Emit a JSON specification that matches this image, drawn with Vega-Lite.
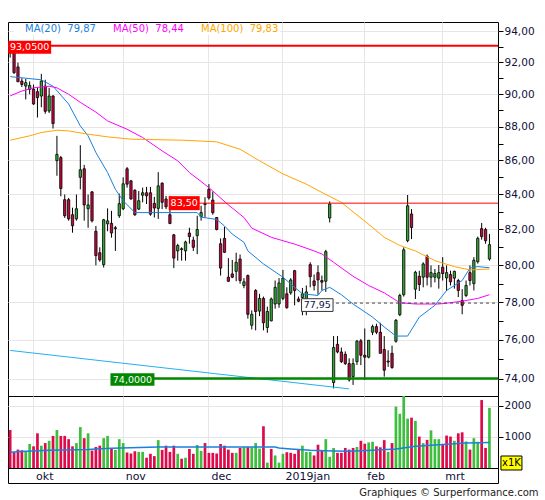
{
 "$schema": "https://vega.github.io/schema/vega-lite/v6.json",
 "background": "white",
 "padding": {"left": 6, "top": 21, "right": 0, "bottom": 0},
 "spacing": 0,
 "bounds": "flush",
 "title": {"text": "Graphiques © Surperformance.com", "orient": "bottom", "anchor": "end", "fontSize": 10, "font": "DejaVu Sans", "fontWeight": "normal", "color": "#222222", "offset": 4, "dx": 4, "baseline": "top"},
 "datasets": {
  "candles": [
{"d":"2018-09-21","o":92.95,"h":93.05,"l":92.3,"c":92.6,"v":1223,"vd":"d"},
{"d":"2018-09-24","o":92.61,"h":92.98,"l":91.27,"c":91.35,"v":509,"vd":"d"},
{"d":"2018-09-25","o":91.71,"h":91.98,"l":90.76,"c":90.78,"v":593,"vd":"d"},
{"d":"2018-09-26","o":90.82,"h":91.0,"l":90.45,"c":90.61,"v":572,"vd":"d"},
{"d":"2018-09-27","o":90.51,"h":90.95,"l":89.68,"c":90.72,"v":530,"vd":"u"},
{"d":"2018-09-28","o":90.3,"h":90.8,"l":90.0,"c":90.55,"v":772,"vd":"u"},
{"d":"2018-10-01","o":90.32,"h":90.6,"l":89.35,"c":89.4,"v":698,"vd":"d"},
{"d":"2018-10-02","o":90.16,"h":90.4,"l":88.57,"c":89.79,"v":1118,"vd":"d"},
{"d":"2018-10-03","o":89.89,"h":91.27,"l":89.2,"c":90.82,"v":719,"vd":"u"},
{"d":"2018-10-04","o":90.51,"h":90.9,"l":88.8,"c":88.95,"v":803,"vd":"d"},
{"d":"2018-10-05","o":88.97,"h":90.4,"l":88.85,"c":89.89,"v":877,"vd":"u"},
{"d":"2018-10-08","o":89.89,"h":89.95,"l":87.9,"c":88.2,"v":1034,"vd":"d"},
{"d":"2018-10-09","o":85.98,"h":87.46,"l":85.09,"c":86.35,"v":1223,"vd":"u"},
{"d":"2018-10-10","o":86.16,"h":86.26,"l":83.9,"c":84.35,"v":1034,"vd":"d"},
{"d":"2018-10-11","o":83.7,"h":84.0,"l":82.66,"c":82.78,"v":1034,"vd":"d"},
{"d":"2018-10-12","o":83.7,"h":83.8,"l":82.5,"c":82.6,"v":929,"vd":"d"},
{"d":"2018-10-15","o":82.84,"h":83.24,"l":81.82,"c":82.21,"v":698,"vd":"d"},
{"d":"2018-10-16","o":82.6,"h":84.0,"l":82.5,"c":83.18,"v":803,"vd":"u"},
{"d":"2018-10-17","o":85.0,"h":86.9,"l":84.3,"c":85.44,"v":1318,"vd":"u"},
{"d":"2018-10-18","o":85.5,"h":85.73,"l":82.5,"c":83.4,"v":961,"vd":"d"},
{"d":"2018-10-19","o":83.18,"h":84.0,"l":82.1,"c":83.4,"v":1118,"vd":"u"},
{"d":"2018-10-22","o":84.15,"h":84.2,"l":82.4,"c":82.49,"v":562,"vd":"d"},
{"d":"2018-10-23","o":81.9,"h":82.2,"l":80.0,"c":80.54,"v":677,"vd":"d"},
{"d":"2018-10-24","o":80.7,"h":81.0,"l":80.2,"c":80.3,"v":719,"vd":"d"},
{"d":"2018-10-25","o":80.04,"h":82.6,"l":79.88,"c":82.55,"v":961,"vd":"u"},
{"d":"2018-10-26","o":82.32,"h":83.2,"l":81.9,"c":82.49,"v":1034,"vd":"u"},
{"d":"2018-10-29","o":82.35,"h":83.06,"l":81.54,"c":81.8,"v":646,"vd":"d"},
{"d":"2018-10-30","o":82.05,"h":82.2,"l":80.8,"c":82.1,"v":583,"vd":"u"},
{"d":"2018-10-31","o":82.78,"h":84.05,"l":82.66,"c":83.47,"v":929,"vd":"u"},
{"d":"2018-11-01","o":83.18,"h":85.0,"l":83.1,"c":84.62,"v":803,"vd":"u"},
{"d":"2018-11-02","o":85.5,"h":85.6,"l":84.4,"c":84.6,"v":499,"vd":"d"},
{"d":"2018-11-05","o":84.79,"h":84.85,"l":83.7,"c":83.74,"v":467,"vd":"d"},
{"d":"2018-11-06","o":84.25,"h":84.3,"l":82.78,"c":82.83,"v":541,"vd":"d"},
{"d":"2018-11-07","o":83.16,"h":84.2,"l":83.1,"c":83.64,"v":520,"vd":"u"},
{"d":"2018-11-08","o":83.96,"h":84.4,"l":83.55,"c":84.1,"v":520,"vd":"u"},
{"d":"2018-11-09","o":84.1,"h":84.44,"l":83.45,"c":83.92,"v":331,"vd":"d"},
{"d":"2018-11-12","o":84.1,"h":84.44,"l":82.78,"c":82.87,"v":457,"vd":"d"},
{"d":"2018-11-13","o":83.49,"h":83.86,"l":82.68,"c":83.22,"v":383,"vd":"d"},
{"d":"2018-11-14","o":83.2,"h":85.3,"l":82.6,"c":84.5,"v":898,"vd":"u"},
{"d":"2018-11-15","o":84.66,"h":84.7,"l":83.16,"c":83.55,"v":583,"vd":"d"},
{"d":"2018-11-16","o":83.74,"h":83.92,"l":83.16,"c":83.29,"v":719,"vd":"d"},
{"d":"2018-11-19","o":82.84,"h":83.92,"l":82.3,"c":82.34,"v":520,"vd":"d"},
{"d":"2018-11-20","o":81.7,"h":81.75,"l":79.85,"c":80.4,"v":719,"vd":"d"},
{"d":"2018-11-21","o":80.8,"h":81.2,"l":80.26,"c":81.1,"v":457,"vd":"u"},
{"d":"2018-11-22","o":80.92,"h":81.0,"l":80.26,"c":80.88,"v":299,"vd":"d"},
{"d":"2018-11-23","o":80.8,"h":81.37,"l":80.26,"c":81.3,"v":331,"vd":"u"},
{"d":"2018-11-26","o":81.8,"h":82.1,"l":81.2,"c":81.6,"v":614,"vd":"d"},
{"d":"2018-11-27","o":81.4,"h":81.6,"l":80.8,"c":81.0,"v":457,"vd":"d"},
{"d":"2018-11-28","o":81.65,"h":82.78,"l":80.62,"c":82.0,"v":740,"vd":"u"},
{"d":"2018-11-29","o":82.73,"h":83.35,"l":82.5,"c":82.97,"v":551,"vd":"u"},
{"d":"2018-11-30","o":83.49,"h":83.84,"l":82.68,"c":83.42,"v":803,"vd":"d"},
{"d":"2018-12-03","o":84.3,"h":84.6,"l":83.7,"c":83.8,"v":488,"vd":"d"},
{"d":"2018-12-04","o":83.68,"h":84.17,"l":82.84,"c":82.95,"v":488,"vd":"d"},
{"d":"2018-12-05","o":82.68,"h":82.7,"l":81.95,"c":82.0,"v":467,"vd":"d"},
{"d":"2018-12-06","o":81.2,"h":81.5,"l":79.44,"c":79.85,"v":772,"vd":"d"},
{"d":"2018-12-07","o":81.5,"h":82.15,"l":80.7,"c":80.72,"v":719,"vd":"d"},
{"d":"2018-12-10","o":79.35,"h":80.4,"l":79.1,"c":79.13,"v":593,"vd":"d"},
{"d":"2018-12-11","o":79.53,"h":80.3,"l":79.3,"c":79.35,"v":488,"vd":"d"},
{"d":"2018-12-12","o":79.67,"h":80.7,"l":79.13,"c":80.17,"v":488,"vd":"u"},
{"d":"2018-12-13","o":80.35,"h":80.6,"l":79.0,"c":79.17,"v":646,"vd":"d"},
{"d":"2018-12-14","o":78.9,"h":79.3,"l":78.75,"c":79.1,"v":667,"vd":"u"},
{"d":"2018-12-17","o":79.44,"h":79.5,"l":77.12,"c":77.35,"v":667,"vd":"d"},
{"d":"2018-12-18","o":76.77,"h":77.56,"l":76.55,"c":77.35,"v":667,"vd":"u"},
{"d":"2018-12-19","o":78.63,"h":78.7,"l":76.5,"c":77.5,"v":803,"vd":"u"},
{"d":"2018-12-20","o":77.52,"h":78.45,"l":77.25,"c":78.2,"v":625,"vd":"u"},
{"d":"2018-12-21","o":78.2,"h":78.3,"l":76.5,"c":76.9,"v":1349,"vd":"d"},
{"d":"2018-12-24","o":76.65,"h":77.76,"l":76.37,"c":77.5,"v":173,"vd":"u"},
{"d":"2018-12-27","o":77.0,"h":78.25,"l":76.98,"c":78.17,"v":614,"vd":"d"},
{"d":"2018-12-28","o":77.9,"h":79.17,"l":77.65,"c":78.8,"v":404,"vd":"u"},
{"d":"2018-12-31","o":77.9,"h":79.3,"l":77.7,"c":79.04,"v":173,"vd":"u"},
{"d":"2019-01-03","o":78.2,"h":79.75,"l":78.1,"c":79.3,"v":457,"vd":"u"},
{"d":"2019-01-04","o":78.45,"h":78.8,"l":77.65,"c":77.7,"v":509,"vd":"d"},
{"d":"2019-01-07","o":78.5,"h":79.3,"l":78.4,"c":79.2,"v":488,"vd":"d"},
{"d":"2019-01-08","o":79.71,"h":79.75,"l":77.83,"c":78.63,"v":457,"vd":"d"},
{"d":"2019-01-09","o":78.17,"h":78.3,"l":78.0,"c":78.05,"v":593,"vd":"d"},
{"d":"2019-01-10","o":78.25,"h":78.77,"l":77.3,"c":78.45,"v":719,"vd":"u"},
{"d":"2019-01-11","o":78.1,"h":78.9,"l":77.3,"c":78.55,"v":520,"vd":"u"},
{"d":"2019-01-14","o":80.04,"h":80.17,"l":78.8,"c":79.38,"v":520,"vd":"u"},
{"d":"2019-01-15","o":79.15,"h":79.5,"l":78.63,"c":78.9,"v":404,"vd":"d"},
{"d":"2019-01-16","o":79.6,"h":80.0,"l":78.4,"c":79.2,"v":751,"vd":"d"},
{"d":"2019-01-17","o":79.17,"h":79.44,"l":78.63,"c":79.08,"v":562,"vd":"d"},
{"d":"2019-01-18","o":79.13,"h":80.86,"l":78.55,"c":80.76,"v":929,"vd":"u"},
{"d":"2019-01-21","o":82.65,"h":83.6,"l":82.4,"c":83.45,"v":362,"vd":"u"},
{"d":"2019-01-22","o":73.8,"h":76.2,"l":73.5,"c":75.6,"v":646,"vd":"u"},
{"d":"2019-01-23","o":75.77,"h":76.2,"l":75.3,"c":75.37,"v":488,"vd":"d"},
{"d":"2019-01-24","o":75.37,"h":75.6,"l":74.8,"c":74.87,"v":488,"vd":"d"},
{"d":"2019-01-25","o":75.25,"h":75.4,"l":74.7,"c":74.77,"v":646,"vd":"d"},
{"d":"2019-01-28","o":74.77,"h":75.04,"l":73.85,"c":73.93,"v":593,"vd":"d"},
{"d":"2019-01-29","o":74.1,"h":75.04,"l":73.68,"c":74.77,"v":646,"vd":"d"},
{"d":"2019-01-30","o":74.87,"h":76.0,"l":74.7,"c":75.93,"v":677,"vd":"u"},
{"d":"2019-01-31","o":75.95,"h":76.05,"l":74.69,"c":75.2,"v":877,"vd":"d"},
{"d":"2019-02-01","o":75.2,"h":76.6,"l":73.93,"c":75.1,"v":782,"vd":"d"},
{"d":"2019-02-04","o":75.1,"h":75.98,"l":75.04,"c":75.98,"v":824,"vd":"u"},
{"d":"2019-02-05","o":76.4,"h":76.8,"l":76.25,"c":76.7,"v":845,"vd":"u"},
{"d":"2019-02-06","o":76.7,"h":76.85,"l":76.3,"c":76.4,"v":698,"vd":"d"},
{"d":"2019-02-07","o":76.4,"h":76.9,"l":75.3,"c":75.3,"v":667,"vd":"d"},
{"d":"2019-02-08","o":75.5,"h":76.2,"l":74.1,"c":74.43,"v":898,"vd":"d"},
{"d":"2019-02-11","o":74.85,"h":75.46,"l":74.6,"c":74.9,"v":520,"vd":"u"},
{"d":"2019-02-12","o":75.3,"h":75.7,"l":74.5,"c":74.57,"v":803,"vd":"d"},
{"d":"2019-02-13","o":75.93,"h":77.1,"l":75.85,"c":77.03,"v":1979,"vd":"u"},
{"d":"2019-02-14","o":77.33,"h":78.45,"l":77.25,"c":78.36,"v":1748,"vd":"u"},
{"d":"2019-02-15","o":78.4,"h":81.0,"l":78.3,"c":80.86,"v":2350,"vd":"u"},
{"d":"2019-02-18","o":81.37,"h":83.97,"l":81.28,"c":83.35,"v":1591,"vd":"u"},
{"d":"2019-02-19","o":82.88,"h":83.16,"l":81.46,"c":82.11,"v":1622,"vd":"d"},
{"d":"2019-02-20","o":78.7,"h":79.7,"l":78.17,"c":79.62,"v":1517,"vd":"u"},
{"d":"2019-02-21","o":79.4,"h":79.7,"l":78.6,"c":78.95,"v":1013,"vd":"d"},
{"d":"2019-02-22","o":79.35,"h":80.17,"l":78.8,"c":80.08,"v":803,"vd":"u"},
{"d":"2019-02-25","o":80.5,"h":80.6,"l":78.9,"c":79.35,"v":908,"vd":"d"},
{"d":"2019-02-26","o":79.35,"h":80.0,"l":78.8,"c":79.6,"v":1213,"vd":"u"},
{"d":"2019-02-27","o":79.35,"h":79.8,"l":79.07,"c":79.55,"v":929,"vd":"u"},
{"d":"2019-02-28","o":79.3,"h":80.02,"l":78.73,"c":79.6,"v":929,"vd":"u"},
{"d":"2019-03-01","o":79.9,"h":80.45,"l":79.17,"c":79.55,"v":751,"vd":"d"},
{"d":"2019-03-04","o":79.31,"h":80.0,"l":78.6,"c":79.6,"v":1045,"vd":"d"},
{"d":"2019-03-05","o":79.5,"h":79.71,"l":78.9,"c":79.1,"v":1013,"vd":"d"},
{"d":"2019-03-06","o":79.3,"h":79.71,"l":78.73,"c":79.67,"v":877,"vd":"u"},
{"d":"2019-03-07","o":79.17,"h":79.26,"l":78.27,"c":78.63,"v":1118,"vd":"d"},
{"d":"2019-03-08","o":78.09,"h":78.7,"l":77.35,"c":77.83,"v":1150,"vd":"d"},
{"d":"2019-03-11","o":78.36,"h":79.17,"l":78.27,"c":78.9,"v":856,"vd":"u"},
{"d":"2019-03-12","o":79.6,"h":80.0,"l":78.9,"c":79.17,"v":593,"vd":"d"},
{"d":"2019-03-13","o":79.0,"h":80.45,"l":78.63,"c":80.28,"v":961,"vd":"u"},
{"d":"2019-03-14","o":80.2,"h":81.6,"l":80.1,"c":81.5,"v":845,"vd":"u"},
{"d":"2019-03-15","o":82.05,"h":82.37,"l":81.43,"c":81.6,"v":2189,"vd":"d"},
{"d":"2019-03-18","o":82.0,"h":82.1,"l":81.2,"c":81.37,"v":646,"vd":"d"},
{"d":"2019-03-19","o":80.35,"h":81.75,"l":80.26,"c":81.15,"v":1937,"vd":"u"}
  ],
  "ma": [
{"ma":"MA(20)\u00a0\u00a079,87","d":"2018-09-21","v":91.1},
{"ma":"MA(20)\u00a0\u00a079,87","d":"2018-10-03","v":90.9},
{"ma":"MA(20)\u00a0\u00a079,87","d":"2018-10-08","v":90.5},
{"ma":"MA(20)\u00a0\u00a079,87","d":"2018-10-12","v":89.4},
{"ma":"MA(20)\u00a0\u00a079,87","d":"2018-10-17","v":88.06},
{"ma":"MA(20)\u00a0\u00a079,87","d":"2018-10-19","v":87.46},
{"ma":"MA(20)\u00a0\u00a079,87","d":"2018-10-23","v":86.46},
{"ma":"MA(20)\u00a0\u00a079,87","d":"2018-10-26","v":85.28},
{"ma":"MA(20)\u00a0\u00a079,87","d":"2018-10-30","v":84.3},
{"ma":"MA(20)\u00a0\u00a079,87","d":"2018-11-01","v":83.64},
{"ma":"MA(20)\u00a0\u00a079,87","d":"2018-11-06","v":82.96},
{"ma":"MA(20)\u00a0\u00a079,87","d":"2018-11-28","v":82.96},
{"ma":"MA(20)\u00a0\u00a079,87","d":"2018-11-29","v":82.7},
{"ma":"MA(20)\u00a0\u00a079,87","d":"2018-12-05","v":82.57},
{"ma":"MA(20)\u00a0\u00a079,87","d":"2018-12-07","v":82.2},
{"ma":"MA(20)\u00a0\u00a079,87","d":"2018-12-11","v":81.74},
{"ma":"MA(20)\u00a0\u00a079,87","d":"2018-12-14","v":81.28},
{"ma":"MA(20)\u00a0\u00a079,87","d":"2018-12-17","v":80.8},
{"ma":"MA(20)\u00a0\u00a079,87","d":"2018-12-21","v":80.08},
{"ma":"MA(20)\u00a0\u00a079,87","d":"2019-01-03","v":79.35},
{"ma":"MA(20)\u00a0\u00a079,87","d":"2019-01-08","v":78.8},
{"ma":"MA(20)\u00a0\u00a079,87","d":"2019-01-10","v":78.45},
{"ma":"MA(20)\u00a0\u00a079,87","d":"2019-01-16","v":78.36},
{"ma":"MA(20)\u00a0\u00a079,87","d":"2019-01-17","v":78.63},
{"ma":"MA(20)\u00a0\u00a079,87","d":"2019-01-21","v":78.8},
{"ma":"MA(20)\u00a0\u00a079,87","d":"2019-01-24","v":78.4},
{"ma":"MA(20)\u00a0\u00a079,87","d":"2019-01-29","v":77.9},
{"ma":"MA(20)\u00a0\u00a079,87","d":"2019-02-05","v":77.2},
{"ma":"MA(20)\u00a0\u00a079,87","d":"2019-02-08","v":76.68},
{"ma":"MA(20)\u00a0\u00a079,87","d":"2019-02-13","v":76.2},
{"ma":"MA(20)\u00a0\u00a079,87","d":"2019-02-18","v":76.2},
{"ma":"MA(20)\u00a0\u00a079,87","d":"2019-02-21","v":77.2},
{"ma":"MA(20)\u00a0\u00a079,87","d":"2019-02-27","v":77.83},
{"ma":"MA(20)\u00a0\u00a079,87","d":"2019-03-04","v":78.63},
{"ma":"MA(20)\u00a0\u00a079,87","d":"2019-03-08","v":79.17},
{"ma":"MA(20)\u00a0\u00a079,87","d":"2019-03-12","v":79.85},
{"ma":"MA(20)\u00a0\u00a079,87","d":"2019-03-14","v":79.93},
{"ma":"MA(20)\u00a0\u00a079,87","d":"2019-03-19","v":79.87},
{"ma":"MA(50)\u00a0\u00a078,44","d":"2018-09-21","v":89.9},
{"ma":"MA(50)\u00a0\u00a078,44","d":"2018-09-26","v":90.2},
{"ma":"MA(50)\u00a0\u00a078,44","d":"2018-10-01","v":90.4},
{"ma":"MA(50)\u00a0\u00a078,44","d":"2018-10-05","v":90.5},
{"ma":"MA(50)\u00a0\u00a078,44","d":"2018-10-09","v":90.4},
{"ma":"MA(50)\u00a0\u00a078,44","d":"2018-10-12","v":90.0},
{"ma":"MA(50)\u00a0\u00a078,44","d":"2018-10-17","v":89.5},
{"ma":"MA(50)\u00a0\u00a078,44","d":"2018-10-23","v":88.9},
{"ma":"MA(50)\u00a0\u00a078,44","d":"2018-10-26","v":88.36},
{"ma":"MA(50)\u00a0\u00a078,44","d":"2018-11-02","v":87.86},
{"ma":"MA(50)\u00a0\u00a078,44","d":"2018-11-08","v":87.36},
{"ma":"MA(50)\u00a0\u00a078,44","d":"2018-11-15","v":86.56},
{"ma":"MA(50)\u00a0\u00a078,44","d":"2018-11-21","v":85.97},
{"ma":"MA(50)\u00a0\u00a078,44","d":"2018-11-26","v":85.28},
{"ma":"MA(50)\u00a0\u00a078,44","d":"2018-12-03","v":84.4},
{"ma":"MA(50)\u00a0\u00a078,44","d":"2018-12-10","v":83.4},
{"ma":"MA(50)\u00a0\u00a078,44","d":"2018-12-14","v":82.68},
{"ma":"MA(50)\u00a0\u00a078,44","d":"2018-12-18","v":82.08},
{"ma":"MA(50)\u00a0\u00a078,44","d":"2018-12-27","v":81.56},
{"ma":"MA(50)\u00a0\u00a078,44","d":"2019-01-08","v":81.18},
{"ma":"MA(50)\u00a0\u00a078,44","d":"2019-01-15","v":80.8},
{"ma":"MA(50)\u00a0\u00a078,44","d":"2019-01-17","v":80.63},
{"ma":"MA(50)\u00a0\u00a078,44","d":"2019-01-22","v":80.17},
{"ma":"MA(50)\u00a0\u00a078,44","d":"2019-01-29","v":79.4},
{"ma":"MA(50)\u00a0\u00a078,44","d":"2019-02-04","v":78.9},
{"ma":"MA(50)\u00a0\u00a078,44","d":"2019-02-08","v":78.5},
{"ma":"MA(50)\u00a0\u00a078,44","d":"2019-02-14","v":77.97},
{"ma":"MA(50)\u00a0\u00a078,44","d":"2019-02-20","v":77.9},
{"ma":"MA(50)\u00a0\u00a078,44","d":"2019-02-28","v":77.9},
{"ma":"MA(50)\u00a0\u00a078,44","d":"2019-03-05","v":77.97},
{"ma":"MA(50)\u00a0\u00a078,44","d":"2019-03-08","v":78.05},
{"ma":"MA(50)\u00a0\u00a078,44","d":"2019-03-14","v":78.2},
{"ma":"MA(50)\u00a0\u00a078,44","d":"2019-03-19","v":78.4},
{"ma":"MA(100)\u00a0\u00a079,83","d":"2018-09-21","v":87.2},
{"ma":"MA(100)\u00a0\u00a079,83","d":"2018-09-28","v":87.46},
{"ma":"MA(100)\u00a0\u00a079,83","d":"2018-10-03","v":87.66},
{"ma":"MA(100)\u00a0\u00a079,83","d":"2018-10-09","v":87.8},
{"ma":"MA(100)\u00a0\u00a079,83","d":"2018-10-12","v":87.76},
{"ma":"MA(100)\u00a0\u00a079,83","d":"2018-10-19","v":87.56},
{"ma":"MA(100)\u00a0\u00a079,83","d":"2018-10-26","v":87.4},
{"ma":"MA(100)\u00a0\u00a079,83","d":"2018-11-05","v":87.26},
{"ma":"MA(100)\u00a0\u00a079,83","d":"2018-11-22","v":87.2},
{"ma":"MA(100)\u00a0\u00a079,83","d":"2018-12-05","v":87.1},
{"ma":"MA(100)\u00a0\u00a079,83","d":"2018-12-13","v":86.66},
{"ma":"MA(100)\u00a0\u00a079,83","d":"2018-12-20","v":85.97},
{"ma":"MA(100)\u00a0\u00a079,83","d":"2019-01-03","v":85.2},
{"ma":"MA(100)\u00a0\u00a079,83","d":"2019-01-11","v":84.6},
{"ma":"MA(100)\u00a0\u00a079,83","d":"2019-01-18","v":84.0},
{"ma":"MA(100)\u00a0\u00a079,83","d":"2019-01-24","v":83.55},
{"ma":"MA(100)\u00a0\u00a079,83","d":"2019-01-29","v":83.0},
{"ma":"MA(100)\u00a0\u00a079,83","d":"2019-02-04","v":82.3},
{"ma":"MA(100)\u00a0\u00a079,83","d":"2019-02-08","v":81.56},
{"ma":"MA(100)\u00a0\u00a079,83","d":"2019-02-14","v":81.1},
{"ma":"MA(100)\u00a0\u00a079,83","d":"2019-02-20","v":80.8},
{"ma":"MA(100)\u00a0\u00a079,83","d":"2019-02-27","v":80.26},
{"ma":"MA(100)\u00a0\u00a079,83","d":"2019-03-06","v":79.93},
{"ma":"MA(100)\u00a0\u00a079,83","d":"2019-03-12","v":79.75},
{"ma":"MA(100)\u00a0\u00a079,83","d":"2019-03-19","v":79.8}
  ],
  "vma": [
{"d":"2018-09-21","v":509},{"d":"2018-09-27","v":541},{"d":"2018-10-05","v":572},{"d":"2018-10-19","v":593},
{"d":"2018-10-23","v":614},{"d":"2018-10-29","v":635},{"d":"2018-11-14","v":677},{"d":"2018-12-28","v":677},
{"d":"2018-12-31","v":646},{"d":"2019-01-07","v":614},{"d":"2019-01-14","v":572},{"d":"2019-01-22","v":551},
{"d":"2019-01-28","v":541},{"d":"2019-02-05","v":572},{"d":"2019-02-13","v":614},{"d":"2019-02-20","v":698},
{"d":"2019-02-26","v":730},{"d":"2019-03-05","v":772},{"d":"2019-03-11","v":803},{"d":"2019-03-19","v":824}
  ],
  "trend": [{"d":"2018-09-21","p":75.45},{"d":"2019-01-28","p":73.48}]
 },
 "vconcat": [
  {
   "width": 490, "height": 374,
   "layer": [
    {"data": {"name": "candles"}, "mark": {"type": "rule", "color": "#000000", "strokeWidth": 1},
     "encoding": {
      "x": {"field": "d", "type": "ordinal", "scale": {"type": "band", "paddingInner": 0.25, "paddingOuter": 1.351, "align": 0.0905, "round": false},
            "axis": {"orient": "bottom", "grid": true, "gridColor": "#e6e6e6", "labels": false, "ticks": false, "domain": false, "title": null, "bandPosition": 0.5,
                     "values": ["2018-10-01","2018-11-01","2018-12-03","2019-01-03","2019-02-01","2019-03-01"]}},
      "y": {"field": "l", "type": "quantitative", "scale": {"type": "log", "domain": [73.12, 94.59], "nice": false},
            "axis": {"orient": "right", "values": [74,75,76,77,78,79,80,81,82,83,84,85,86,87,88,89,90,91,92,93,94],
                     "labelExpr": "datum.value % 2 == 0 ? replace(format(datum.value, '.2f'), '.', ',') : ''",
                     "tickSize": 5, "labelPadding": 1, "labelFontSize": 10.5, "domain": false, "title": null, "labelOverlap": false,
                     "grid": true, "gridColor": "#e6e6e6", "gridOpacity": {"condition": {"test": "datum.value % 2 == 0", "value": 1}, "value": 0}}},
      "y2": {"field": "h"}
     }},
    {"data": {"name": "candles"}, "mark": {"type": "bar", "width": 2.3, "stroke": "#000000", "strokeWidth": 0.8},
     "encoding": {
      "x": {"field": "d", "type": "ordinal"},
      "y": {"field": "o", "type": "quantitative", "scale": {"type": "log", "domain": [73.12, 94.59], "nice": false}},
      "y2": {"field": "c"},
      "fill": {"condition": {"test": "datum.c >= datum.o", "value": "#33aa33"}, "value": "#c8083f"}
     }},
    {"data": {"name": "ma"}, "mark": {"type": "line", "strokeWidth": 1},
     "encoding": {
      "x": {"field": "d", "type": "ordinal"},
      "y": {"field": "v", "type": "quantitative", "scale": {"type": "log", "domain": [73.12, 94.59], "nice": false}},
      "color": {"field": "ma", "type": "nominal",
                "scale": {"domain": ["MA(20)\u00a0\u00a079,87", "MA(50)\u00a0\u00a078,44", "MA(100)\u00a0\u00a079,83"], "range": ["#1a80dd", "#ff00ff", "#ffa500"]},
                "legend": {"orient": "none", "legendX": 6, "legendY": 1, "direction": "horizontal", "title": null,
                           "symbolSize": 0, "symbolStrokeWidth": 0, "symbolOpacity": 0, "labelOffset": 0, "columnPadding": 7,
                           "labelFont": "DejaVu Sans", "labelFontSize": 10, "fillColor": "#ffffff", "padding": 1, "labelLimit": 200,
                           "encode": {"labels": {"update": {"fill": {"scale": "color", "field": "value"}}}}}}
     }},
    {"data": {"name": "trend"}, "mark": {"type": "line", "color": "#22b0f0", "strokeWidth": 1},
     "encoding": {
      "x": {"field": "d", "type": "ordinal"},
      "y": {"field": "p", "type": "quantitative", "scale": {"type": "log", "domain": [73.12, 94.59], "nice": false}}
     }},
    {"data": {"values": [{"p": 93.05}]}, "mark": {"type": "rule", "color": "#ff0000", "strokeWidth": 2},
     "encoding": {"y": {"field": "p", "type": "quantitative", "scale": {"type": "log", "domain": [73.12, 94.59], "nice": false}}}},
    {"data": {"values": [{"d": "2018-11-23", "p": 83.5}]}, "mark": {"type": "rule", "color": "#ff0000", "strokeWidth": 1},
     "encoding": {"x": {"field": "d", "type": "ordinal"}, "x2": {"value": "width"},
                  "y": {"field": "p", "type": "quantitative", "scale": {"type": "log", "domain": [73.12, 94.59], "nice": false}}}},
    {"data": {"values": [{"d": "2018-11-05", "p": 74.0}]}, "mark": {"type": "rule", "color": "#008800", "strokeWidth": 2.5},
     "encoding": {"x": {"field": "d", "type": "ordinal"}, "x2": {"value": "width"},
                  "y": {"field": "p", "type": "quantitative", "scale": {"type": "log", "domain": [73.12, 94.59], "nice": false}}}},
    {"data": {"values": [{"d": "2019-01-16", "p": 77.95}]}, "mark": {"type": "rule", "color": "#444444", "strokeWidth": 1, "strokeDash": [3, 3]},
     "encoding": {"x": {"field": "d", "type": "ordinal"}, "x2": {"value": "width"},
                  "y": {"field": "p", "type": "quantitative", "scale": {"type": "log", "domain": [73.12, 94.59], "nice": false}}}},
    {"data": {"values": [{"d": "2018-09-28", "p": 93.05, "t": "93,0500"}]},
     "encoding": {"x": {"field": "d", "type": "ordinal"}, "y": {"field": "p", "type": "quantitative", "scale": {"type": "log", "domain": [73.12, 94.59], "nice": false}}},
     "layer": [
      {"mark": {"type": "point", "shape": "M-1,-0.3023H1V0.3023H-1Z", "size": 1849, "filled": true, "fill": "#ff0000", "strokeWidth": 0, "opacity": 1, "yOffset": 1.5}},
      {"mark": {"type": "text", "color": "#ffffff", "font": "DejaVu Sans", "fontSize": 9.5, "yOffset": 1.5}, "encoding": {"text": {"field": "t"}}}
     ]},
    {"data": {"values": [{"d": "2018-11-23", "p": 83.5, "t": "83,50"}]},
     "encoding": {"x": {"field": "d", "type": "ordinal"}, "y": {"field": "p", "type": "quantitative", "scale": {"type": "log", "domain": [73.12, 94.59], "nice": false}}},
     "layer": [
      {"mark": {"type": "point", "shape": "M-1,-0.4516H1V0.4516H-1Z", "size": 961, "filled": true, "fill": "#ff0000", "strokeWidth": 0, "opacity": 1, "xOffset": -1.3}},
      {"mark": {"type": "text", "color": "#ffffff", "font": "DejaVu Sans", "fontSize": 9.5, "xOffset": -1.3}, "encoding": {"text": {"field": "t"}}}
     ]},
    {"data": {"values": [{"d": "2018-11-05", "p": 74.0, "t": "74,0000"}]},
     "encoding": {"x": {"field": "d", "type": "ordinal"}, "y": {"field": "p", "type": "quantitative", "scale": {"type": "log", "domain": [73.12, 94.59], "nice": false}}},
     "layer": [
      {"mark": {"type": "point", "shape": "M-1,-0.2841H1V0.2841H-1Z", "size": 1936, "filled": true, "fill": "#008800", "strokeWidth": 0, "opacity": 1, "xOffset": 1.5, "yOffset": 1}},
      {"mark": {"type": "text", "color": "#ffffff", "font": "DejaVu Sans", "fontSize": 9.5, "xOffset": 1.5, "yOffset": 1}, "encoding": {"text": {"field": "t"}}}
     ]},
    {"data": {"values": [{"d": "2019-01-16", "p": 77.95, "t": "77,95"}]},
     "encoding": {"x": {"field": "d", "type": "ordinal"}, "y": {"field": "p", "type": "quantitative", "scale": {"type": "log", "domain": [73.12, 94.59], "nice": false}}},
     "layer": [
      {"mark": {"type": "point", "shape": "M-1,-0.4032H1V0.4032H-1Z", "size": 992, "filled": true, "fill": "#ffffff", "stroke": "#333333", "strokeWidth": 1, "opacity": 1, "xOffset": -0.7, "yOffset": 2}},
      {"mark": {"type": "text", "color": "#10104a", "font": "DejaVu Sans", "fontSize": 9.5, "xOffset": -0.7, "yOffset": 2}, "encoding": {"text": {"field": "t"}}}
     ]}
   ]
  },
  {
   "width": 490, "height": 72,
   "layer": [
    {"data": {"name": "candles"}, "mark": {"type": "bar", "width": 2.7, "clip": true},
     "encoding": {
      "x": {"field": "d", "type": "ordinal", "scale": {"type": "band", "paddingInner": 0.25, "paddingOuter": 1.351, "align": 0.0905, "round": false},
            "axis": {"orient": "bottom", "grid": true, "gridColor": "#e6e6e6", "labels": false, "ticks": false, "domain": false, "title": null, "bandPosition": 0.5,
                     "values": ["2018-10-01","2018-11-01","2018-12-03","2019-01-03","2019-02-01","2019-03-01"]}},
      "y": {"field": "v", "type": "quantitative", "scale": {"domain": [0, 2320], "nice": false},
            "axis": {"orient": "right", "values": [1000, 2000], "format": "d",
                     "tickSize": 5, "labelPadding": 1, "labelFontSize": 10.5, "domain": false, "title": null, "labelOverlap": false, "labelFlush": false, "labelBound": false,
                     "grid": true, "gridColor": "#e6e6e6"}},
      "fill": {"condition": {"test": "datum.vd == 'u'", "value": "#3dbe3d"}, "value": "#dd0a4c"}
     }},
    {"data": {"name": "vma"}, "mark": {"type": "line", "color": "#1a80dd", "strokeWidth": 1.5},
     "encoding": {
      "x": {"field": "d", "type": "ordinal"},
      "y": {"field": "v", "type": "quantitative"}
     }},
    {"data": {"values": [{"d": "2019-03-19", "t": "x1K", "v": 0}]},
     "encoding": {"x": {"field": "d", "type": "ordinal"}, "y": {"field": "v", "type": "quantitative"}},
     "layer": [
      {"mark": {"type": "point", "shape": "M-1,-0.6667H1V0.6667H-1Z", "size": 441, "filled": true, "fill": "#ffff00", "stroke": "#000000", "strokeWidth": 1, "opacity": 1, "xOffset": 22, "yOffset": -5}},
      {"mark": {"type": "text", "color": "#000000", "font": "DejaVu Sans", "fontSize": 10, "xOffset": 22, "yOffset": -5}, "encoding": {"text": {"field": "t"}}}
     ]}
   ]
  },
  {
   "width": 490, "height": 15,
   "data": {"name": "candles"},
   "mark": {"type": "tick", "opacity": 0},
   "encoding": {
    "x": {"field": "d", "type": "ordinal", "scale": {"type": "band", "paddingInner": 0.25, "paddingOuter": 1.351, "align": 0.0905, "round": false},
          "axis": {"orient": "bottom", "values": ["2018-10-01","2018-11-01","2018-12-03","2019-01-03","2019-02-01","2019-03-01"],
                   "labelExpr": "datum.value == '2018-10-01' ? 'okt' : datum.value == '2018-11-01' ? 'nov' : datum.value == '2018-12-03' ? 'dec' : datum.value == '2019-01-03' ? '2019jan' : datum.value == '2019-02-01' ? 'feb' : datum.value == '2019-03-01' ? 'mrt' : ''",
                   "grid": false, "ticks": false, "tickSize": 0, "domain": false, "labelAlign": "left", "labelBaseline": "alphabetic",
                   "labelPadding": -3.5, "labelOffset": 2.5, "labelFontSize": 11, "labelAngle": 0, "title": null, "labelOverlap": false, "bandPosition": 0.5}}
   }
  }
 ],
 "config": {
  "view": {"stroke": "#000000", "strokeWidth": 1},
  "axis": {"labelFont": "DejaVu Sans", "labelColor": "#10103a", "tickColor": "#000000", "tickWidth": 1}
 }
}
